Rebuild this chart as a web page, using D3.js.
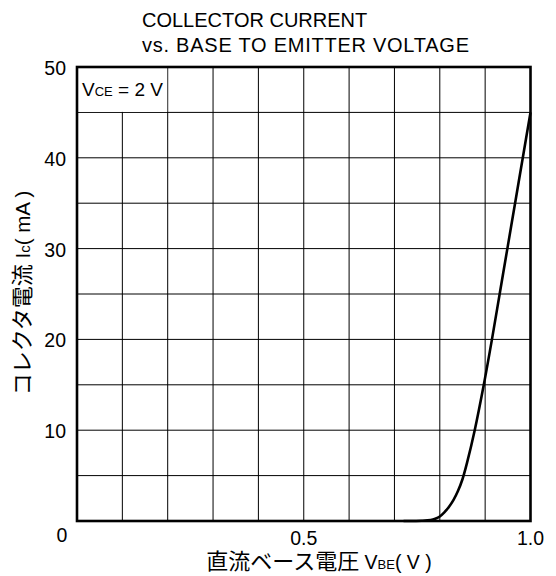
<!DOCTYPE html>
<html>
<head>
<meta charset="utf-8">
<script src="https://cdn.jsdelivr.net/npm/d3@7"></script>
<style>
  html, body { margin: 0; padding: 0; background: #fff; }
  svg { display: block; }
  text { font-family: "Liberation Sans", Arial, "Noto Sans CJK JP", sans-serif; fill: #000; }
</style>
</head>
<body>
<script>
// ---- data ----
const titleLines = ["COLLECTOR CURRENT", "vs. BASE TO EMITTER VOLTAGE"];
const vbe = [0.72, 0.76, 0.78, 0.79, 0.80, 0.81, 0.82, 0.83, 0.84, 0.85, 0.86, 0.877, 0.897, 0.915, 0.932, 0.949, 0.966, 0.983, 1.0];
const ic  = [0,    0.02, 0.1,  0.25, 0.5,  0.95, 1.55, 2.3,  3.3,  4.6,  6.4,  10,    15,    20,    25,    30,    35,    40,    45];
const xTickValues = [0.5, 1.0];
const xTickLabels = ["0.5", "1.0"];
const yTickValues = [10, 20, 30, 40, 50];
const yTickLabels = ["10", "20", "30", "40", "50"];
const xGrid = d3.range(1, 10).map(i => i / 10);
const yGrid = d3.range(1, 10).map(i => i * 5);

const W = 556, H = 576;
const svg = d3.select("body").append("svg").attr("width", W).attr("height", H);

const x = d3.scaleLinear().domain([0, 1]).range([77, 530.5]);
const y = d3.scaleLinear().domain([0, 50]).range([521, 67]);

// grid
const g = svg.append("g");
g.selectAll("line.gx").data(xGrid).enter().append("line")
  .attr("x1", d => x(d)).attr("x2", d => x(d))
  .attr("y1", y(0)).attr("y2", y(50))
  .attr("stroke", "#000").attr("stroke-width", 1);
g.selectAll("line.gy").data(yGrid).enter().append("line")
  .attr("x1", x(0)).attr("x2", x(1))
  .attr("y1", d => y(d)).attr("y2", d => y(d))
  .attr("stroke", "#000").attr("stroke-width", 1);

// label box (hides grid behind the VCE label)
svg.append("rect")
  .attr("x", x(0) + 1).attr("y", y(50) + 1)
  .attr("width", x(0.2) - x(0) - 1.5).attr("height", y(45) - y(50) - 1.5)
  .attr("fill", "#fff");

const vce = svg.append("text").attr("x", 82).attr("y", 96).attr("font-size", 19);
vce.append("tspan").text("V");
vce.append("tspan").attr("font-size", 13).text("CE");
vce.append("tspan").text(" = 2 V");

// curve
const pts = vbe.map((v, i) => [v, ic[i]]);
const line = d3.line().x(d => x(d[0])).y(d => y(d[1])).curve(d3.curveCatmullRom.alpha(0.5));
svg.append("path").datum(pts).attr("d", line)
  .attr("fill", "none").attr("stroke", "#000").attr("stroke-width", 2.6)
  .attr("stroke-linejoin", "round");

// frame
svg.append("rect")
  .attr("x", x(0)).attr("y", y(50))
  .attr("width", x(1) - x(0)).attr("height", y(0) - y(50))
  .attr("fill", "none").attr("stroke", "#000").attr("stroke-width", 2.6);

// y tick labels
svg.selectAll("text.yt").data(yTickValues).enter().append("text")
  .attr("class", "yt")
  .attr("x", 66).attr("y", d => y(d) + 8)
  .attr("text-anchor", "end").attr("font-size", 19.5)
  .text((d, i) => yTickLabels[i]);

// x tick labels
svg.selectAll("text.xt").data(xTickValues).enter().append("text")
  .attr("class", "xt")
  .attr("x", d => x(d)).attr("y", 545)
  .attr("text-anchor", "middle").attr("font-size", 19.5)
  .text((d, i) => xTickLabels[i]);

// origin label
svg.append("text").attr("x", 62).attr("y", 542)
  .attr("text-anchor", "middle").attr("font-size", 19.5).text("0");

// title
svg.selectAll("text.title").data(titleLines).enter().append("text")
  .attr("class", "title")
  .attr("x", 142).attr("y", (d, i) => 27 + i * 25)
  .attr("font-size", 20)
  .attr("letter-spacing", (d, i) => i === 1 ? 0.75 : 0)
  .text(d => d);

// x axis title
const xt = svg.append("text").attr("x", 319).attr("y", 569)
  .attr("text-anchor", "middle").attr("font-size", 19.5);
xt.append("tspan").attr("font-size", 22).text("直流ベース電圧");
xt.append("tspan").text(" V");
xt.append("tspan").attr("font-size", 13).text("BE");
xt.append("tspan").text("( V )");

// y axis title
const yt = svg.append("text")
  .attr("transform", "translate(30,293) rotate(-90)")
  .attr("text-anchor", "middle").attr("font-size", 20.5);
yt.append("tspan").attr("font-size", 22).text("コレクタ電流");
yt.append("tspan").text(" I");
yt.append("tspan").attr("font-size", 15).text("c");
yt.append("tspan").text("( mA )");
</script>
</body>
</html>
